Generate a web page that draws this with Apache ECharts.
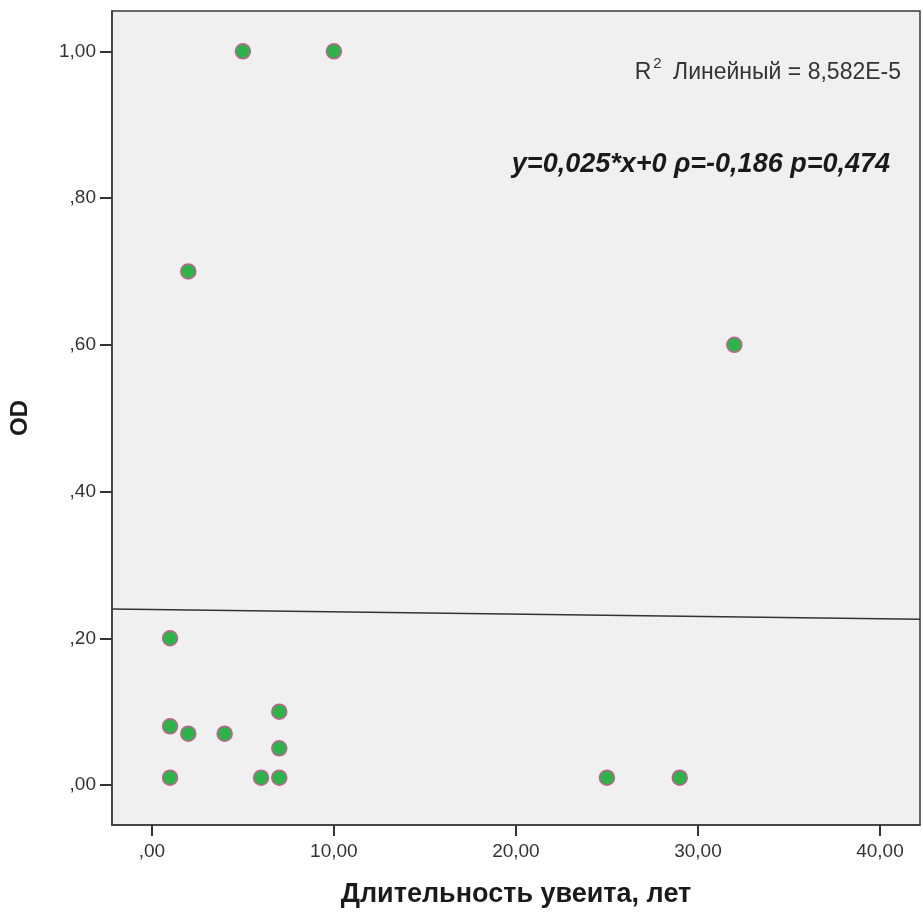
<!DOCTYPE html>
<html>
<head>
<meta charset="utf-8">
<script src="https://cdn.jsdelivr.net/npm/echarts@6/dist/echarts.min.js"></script>
<style>
html,body{margin:0;padding:0;background:#fff;}
#chart{width:923px;height:913px;}
</style>
</head>
<body>
<div id="chart"></div>
<script>
// Data
const durationYears = [5, 10, 2, 32, 1, 1, 2, 4, 7, 7, 7, 6, 1, 25, 29];
const odValues      = [1.00, 1.00, 0.70, 0.60, 0.20, 0.08, 0.07, 0.07, 0.10, 0.05, 0.01, 0.01, 0.01, 0.01, 0.01];
const fitLineX = [-2.19, 42.2];
const fitLineY = [0.240, 0.226];
const xTicks = [0, 10, 20, 30, 40];
const yTicks = [0, 0.2, 0.4, 0.6, 0.8, 1.0];

const points = durationYears.map((x, i) => [x, odValues[i]]);
const fitLine = fitLineX.map((x, i) => [x, fitLineY[i]]);

function fmt(v) {
  let s = Number(v).toFixed(2).replace('.', ',');
  if (s.startsWith('0,')) s = s.slice(1);
  return s;
}

const chart = echarts.init(document.getElementById('chart'), null, {renderer: 'canvas'});
const font = '"Liberation Sans", Arial, sans-serif';
chart.setOption({
  animation: false,
  backgroundColor: '#ffffff',
  title: [
    {
      right: 17, top: 51,
      text: '{a|R}{s|2}{a| Линейный = 8,582E-5}',
      textStyle: {
        fontWeight: 'normal',
        rich: {
          a: {fontFamily: font, fontSize: 23, fontWeight: 'normal', color: '#333333', verticalAlign: 'bottom', lineHeight: 28},
          s: {fontFamily: font, fontSize: 15, fontWeight: 'normal', color: '#333333', verticalAlign: 'top', lineHeight: 28, padding: [0, 5, 8, 2]}
        }
      }
    },
    {
      right: 28, top: 146,
      text: 'y=0,025*x+0 ρ=-0,186 p=0,474',
      textStyle: {fontFamily: font, fontSize: 27, fontWeight: 'bold', fontStyle: 'italic', color: '#1a1a1a'}
    }
  ],
  grid: {left: 110, top: 11, right: 3, bottom: 88, show: true, backgroundColor: '#f0f0f0', borderColor: '#3a3a3a', borderWidth: 1.5},
  xAxis: {
    type: 'value', min: -2.19, max: 42.2,
    name: 'Длительность увеита, лет', nameLocation: 'middle', nameGap: 56,
    nameTextStyle: {fontFamily: font, fontSize: 27, fontWeight: 'bold', color: '#1a1a1a'},
    axisLine: {show: true, onZero: false, lineStyle: {color: '#3a3a3a', width: 1.5}},
    axisTick: {show: true, length: 11, lineStyle: {color: '#333333', width: 2}, customValues: xTicks},
    axisLabel: {fontFamily: font, fontSize: 19, color: '#333333', margin: 17, formatter: fmt, customValues: xTicks},
    splitLine: {show: false}
  },
  yAxis: {
    type: 'value', min: -0.0545, max: 1.055,
    name: 'OD', nameLocation: 'middle', nameGap: 80, nameRotate: 90,
    nameTextStyle: {fontFamily: font, fontSize: 24, fontWeight: 'bold', color: '#1a1a1a'},
    axisLine: {show: true, onZero: false, lineStyle: {color: '#3a3a3a', width: 1.5}},
    axisTick: {show: true, length: 12, lineStyle: {color: '#333333', width: 2}, customValues: yTicks},
    axisLabel: {fontFamily: font, fontSize: 19, color: '#333333', margin: 16, formatter: fmt, customValues: yTicks},
    splitLine: {show: false}
  },
  series: [
    {
      type: 'line', data: fitLine, symbol: 'none', silent: true,
      lineStyle: {color: '#333333', width: 1.5}, z: 1
    },
    {
      type: 'scatter', data: points, symbol: 'circle', symbolSize: 15,
      itemStyle: {color: '#2db34a', borderColor: '#c0628f', borderWidth: 1.5, opacity: 1},
      z: 2
    }
  ]
});
</script>
</body>
</html>
